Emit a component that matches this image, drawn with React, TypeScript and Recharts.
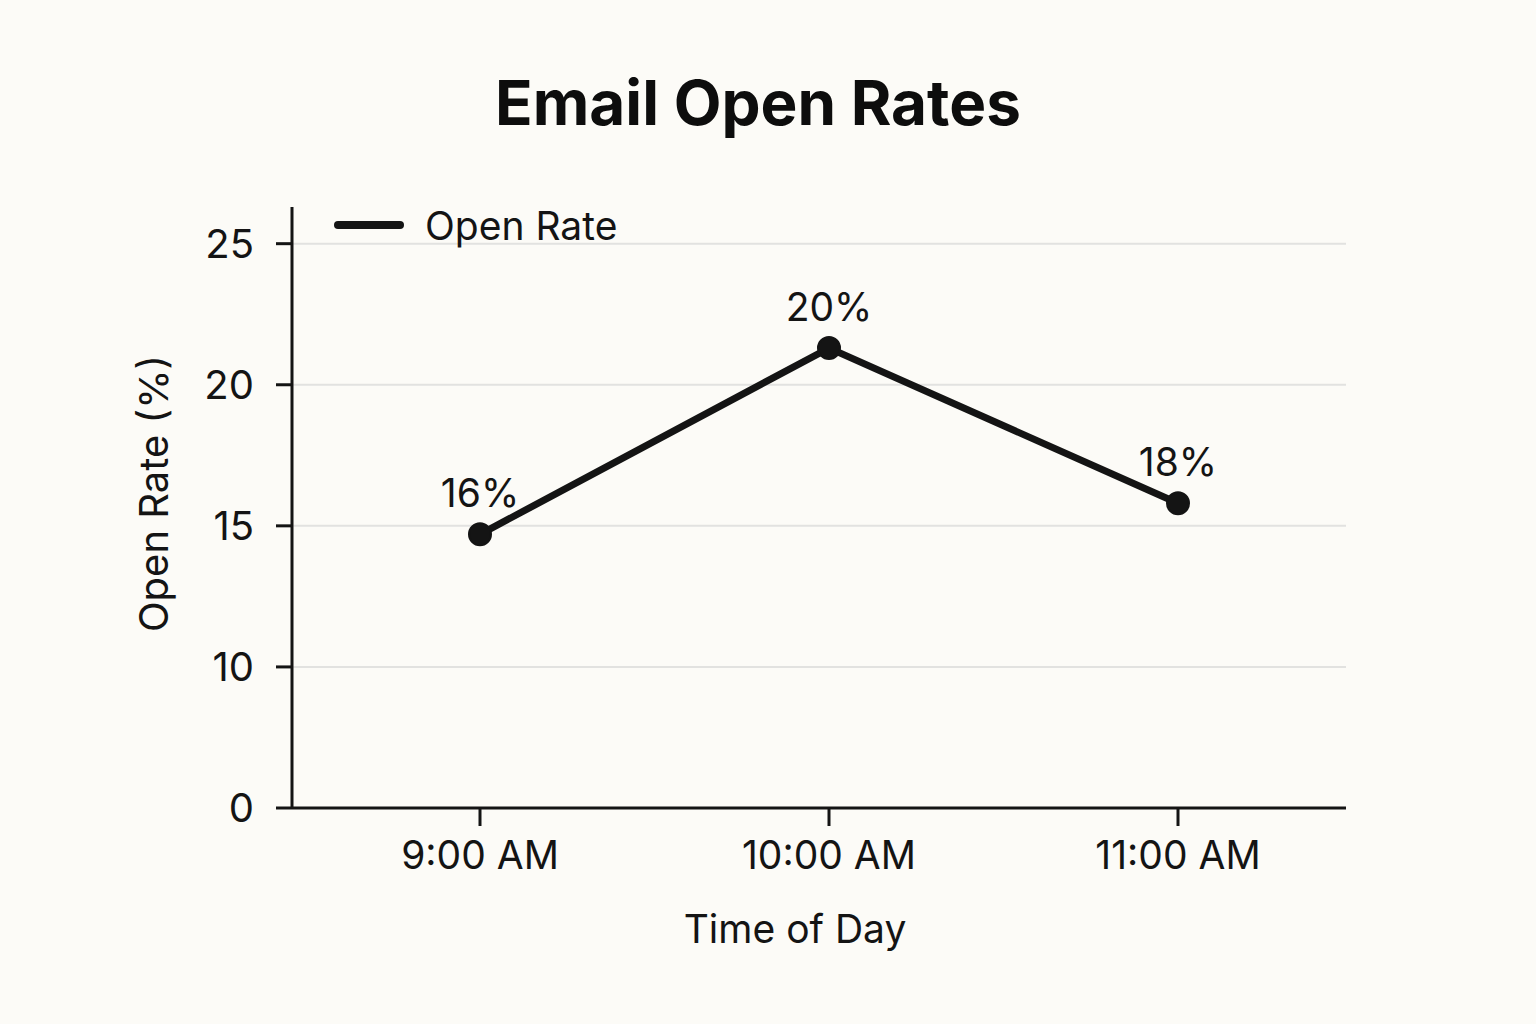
import {
  LineChart,
  Line,
  XAxis,
  YAxis,
  CartesianGrid,
  Label,
  LabelList,
} from 'recharts'

const horas = ['9:00 AM', '10:00 AM', '11:00 AM']
// posição dos pontos (escala do eixo)
const taxaAbertura = [14.7, 21.3, 15.8]
// rótulos impressos acima dos pontos
const rotulos = ['16%', '20%', '18%']
const yTicks = [5, 10, 15, 20, 25]
const yTickLabels = ['0', '10', '15', '20', '25']
const linhasGrade = [10, 15, 20, 25]

const dados = horas.map((h, i) => ({ hora: h, taxa: taxaAbertura[i], rotulo: rotulos[i] }))

const FONTE = 'Inter, "DejaVu Sans", sans-serif'
const TINTA = '#141414'
const FUNDO = '#fcfbf7'

// rótulo do eixo Y desenhado à mão pra poder subir um pouco o centro
const RotuloY = ({ viewBox }: any) => {
  const x = viewBox.x + 153
  const y = viewBox.y + viewBox.height / 2 - 14
  return (
    <text
      x={x}
      y={y}
      transform={`rotate(-90, ${x}, ${y})`}
      textAnchor="middle"
      dominantBaseline="central"
      fill={TINTA}
      fontSize={40}
      fontFamily={FONTE}
    >
      Open Rate (%)
    </text>
  )
}

// rótulo do eixo X, um pouco à esquerda do centro como no original
const RotuloX = ({ viewBox }: any) => (
  <text
    x={viewBox.x + viewBox.width / 2 - 24}
    y={viewBox.y + 135}
    textAnchor="middle"
    fill={TINTA}
    fontSize={39}
    fontFamily={FONTE}
  >
    Time of Day
  </text>
)

export default function App() {
  return (
    <div
      style={{
        position: 'absolute',
        left: 0,
        top: 0,
        width: 1536,
        height: 1024,
        background: FUNDO,
        fontFamily: FONTE,
      }}
    >
      <div
        style={{
          position: 'absolute',
          top: 65,
          left: 0,
          width: 1516,
          textAlign: 'center',
          fontSize: 62,
          fontWeight: 700,
          color: '#0d0d0d',
          lineHeight: 'normal',
        }}
      >
        Email Open Rates
      </div>

      <LineChart
        width={1536}
        height={1024}
        data={dados}
        margin={{ top: 207, right: 190, bottom: 0, left: 0 }}
        style={{ position: 'absolute', left: 0, top: 0 }}
      >
        <CartesianGrid
          vertical={false}
          horizontalValues={linhasGrade}
          stroke="#e2e2e0"
          strokeWidth={2}
        />
        <XAxis
          dataKey="hora"
          height={216}
          padding={{ left: 188, right: 168 }}
          tickSize={18}
          tickMargin={15}
          axisLine={{ stroke: TINTA, strokeWidth: 3 }}
          tickLine={{ stroke: TINTA, strokeWidth: 3 }}
          tick={{ fill: TINTA, fontSize: 39, fontFamily: FONTE }}
        >
          <Label content={RotuloX} />
        </XAxis>
        <YAxis
          width={292}
          domain={[5, 26.3]}
          ticks={yTicks}
          allowDataOverflow
          tickSize={16}
          tickMargin={22}
          tickFormatter={(v) => yTickLabels[yTicks.indexOf(Number(v))] ?? String(v)}
          axisLine={{ stroke: TINTA, strokeWidth: 3 }}
          tickLine={{ stroke: TINTA, strokeWidth: 3 }}
          tick={{ fill: TINTA, fontSize: 40, fontFamily: FONTE }}
        >
          <Label content={RotuloY} />
        </YAxis>
        <Line
          type="linear"
          dataKey="taxa"
          name="Open Rate"
          stroke={TINTA}
          strokeWidth={7}
          dot={{ r: 11, fill: TINTA, stroke: TINTA, strokeWidth: 2 }}
          isAnimationActive={false}
        >
          <LabelList
            dataKey="rotulo"
            position="top"
            offset={27}
            style={{ fill: TINTA, fontSize: 39, fontFamily: FONTE }}
          />
        </Line>
      </LineChart>

      {/* legenda fora do recharts pra não empurrar a área do gráfico */}
      <div
        style={{
          position: 'absolute',
          left: 332,
          top: 201,
          display: 'flex',
          alignItems: 'center',
          height: 48,
        }}
      >
        <svg width={74} height={12}>
          <line x1={6} y1={6} x2={68} y2={6} stroke={TINTA} strokeWidth={8} strokeLinecap="round" />
        </svg>
        <span style={{ marginLeft: 19, fontSize: 39, color: TINTA, lineHeight: 1 }}>Open Rate</span>
      </div>
    </div>
  )
}
